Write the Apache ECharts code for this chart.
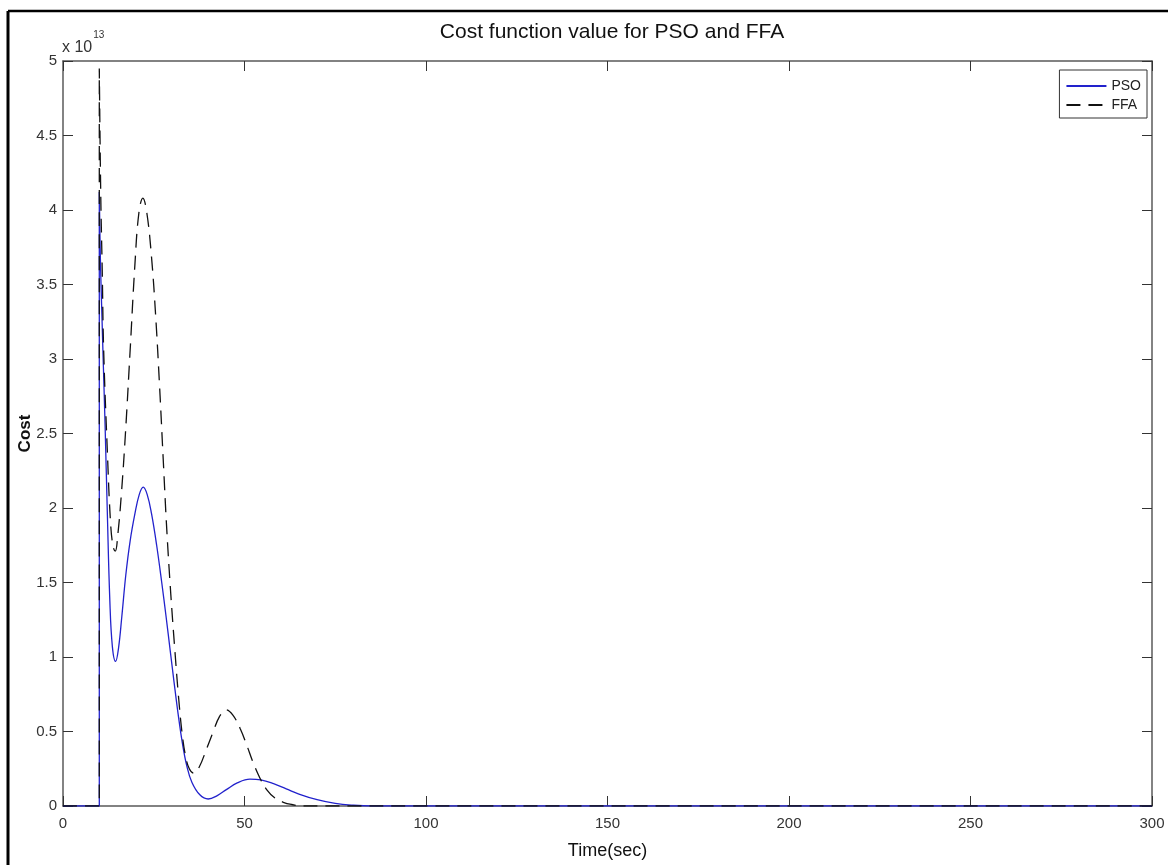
<!DOCTYPE html>
<html>
<head>
<meta charset="utf-8">
<script src="https://cdn.jsdelivr.net/npm/echarts@6/dist/echarts.min.js"></script>
<style>
html,body{margin:0;padding:0;background:#fff;}
#chart{width:1168px;height:865px;}
</style>
</head>
<body>
<div id="chart"></div>
<script>
// Values in units of 1e13
var psoData = [
  [0,0],[10,0],[10,4.12],[10.3,3.67],[10.7,3.31],[11.1,2.97],[11.6,2.55],[12.2,1.98],[12.9,1.38],
  [13.6,1.07],[14.5,0.97],[15.3,1.06],[16.2,1.27],[17.3,1.55],[18.5,1.78],[19.8,1.96],[21,2.09],
  [22.1,2.14],[23.2,2.09],[24.4,1.96],[25.8,1.75],[27.2,1.50],[28.4,1.27],[29.5,1.05],[30.6,0.83],
  [31.7,0.62],[32.9,0.42],[34.1,0.27],[35.5,0.16],[37.7,0.075],[40,0.047],[42.5,0.07],[45,0.11],
  [48,0.155],[51.5,0.18],[54.5,0.175],[58,0.15],[61.5,0.115],[65,0.08],[70,0.042],[75,0.017],[80,0.005],
  [85,0],[300,0]
];
var ffaData = [
  [0,0],[10,0],[10,4.95],[10.4,4.1],[10.8,3.6],[11.2,3.06],[12.2,2.39],[13.1,1.9],[13.8,1.74],[14.4,1.71],
  [15.1,1.82],[16.1,2.1],[17.2,2.5],[18.5,3.06],[19.8,3.63],[20.9,3.98],[22,4.08],[23.1,3.98],
  [24.4,3.68],[25.5,3.3],[26.6,2.82],[27.6,2.33],[28.6,1.85],[29.7,1.42],[30.8,1.05],[31.8,0.74],[32.8,0.49],
  [33.8,0.33],[34.8,0.25],[36,0.22],[37.5,0.26],[39.5,0.38],[41.4,0.50],[43.1,0.6],[44.9,0.645],
  [46.8,0.61],[48.8,0.52],[50.6,0.41],[52.4,0.29],[54.2,0.19],[56.1,0.11],[58.3,0.055],[60.7,0.025],
  [63,0.01],[66,0],[300,0]
];
var seriesNames = ['PSO','FFA'];
var titleText = 'Cost function value for PSO and FFA';
var xName = 'Time(sec)';
var yName = 'Cost';

var narrow = "'Liberation Sans Narrow','Liberation Sans',Arial,sans-serif";
var sans = "'Liberation Sans',Arial,sans-serif";
var axisCol = '#5a5a5a';

var chart = echarts.init(document.getElementById('chart'));
function mkX(pos, showLabel){
  return {
    type:'value', min:0, max:300, interval:50, position:pos,
    axisLine:{show:true, onZero:false, lineStyle:{color:axisCol, width:1.5}},
    axisTick:{show:true, inside:true, length:10, lineStyle:{color:'#333', width:1}},
    axisLabel:{show:showLabel, margin:10, fontFamily:narrow, fontSize:15, color:'#333'},
    splitLine:{show:false},
    name: showLabel ? xName : '', nameLocation:'middle', nameGap:36, nameMoveOverlap:false,
    nameTextStyle:{fontFamily:sans, fontSize:18, color:'#111'}
  };
}
function mkY(pos, showLabel){
  return {
    type:'value', min:0, max:5, interval:0.5, position:pos,
    axisLine:{show:true, onZero:false, lineStyle:{color:axisCol, width:1.5}},
    axisTick:{show:true, inside:true, length:10, lineStyle:{color:'#333', width:1}},
    axisLabel:{show:showLabel, margin:6, fontFamily:narrow, fontSize:15, color:'#333'},
    splitLine:{show:false},
    name: showLabel ? yName : '', nameLocation:'middle', nameGap:29, nameMoveOverlap:false,
    nameTextStyle:{fontFamily:sans, fontSize:17, fontWeight:'bold', color:'#111'}
  };
}
chart.setOption({
  animation:false,
  backgroundColor:'#fff',
  title:{text:titleText, left:607, textAlign:'center', top:17,
    textStyle:{fontFamily:sans, fontSize:21, fontWeight:'normal', color:'#111'}},
  grid:{left:63, right:16, top:61, bottom:58},
  xAxis:[mkX('bottom', true), mkX('top', false)],
  yAxis:[mkY('left', true), mkY('right', false)],
  legend:{
    data:seriesNames, orient:'vertical', right:21, top:70,
    borderColor:'#333', borderWidth:1, backgroundColor:'#fff', borderRadius:0,
    padding:[9,6,6,6], itemGap:5, itemWidth:40, itemHeight:12,
    itemStyle:{opacity:0},
    textStyle:{fontFamily:narrow, fontSize:14, color:'#222'}
  },
  graphic:[
    {type:'line', shape:{x1:8, y1:11, x2:1168, y2:11}, style:{stroke:'#000', lineWidth:2.5}},
    {type:'line', shape:{x1:8, y1:11, x2:8, y2:865}, style:{stroke:'#000', lineWidth:3}},
    {type:'text', left:62, top:30, style:{
      text:'{b|x 10}{s|13}', fontFamily:narrow,
      rich:{b:{fontSize:16, fontFamily:narrow, fill:'#333', verticalAlign:'bottom', padding:[10,0,0,0]},
            s:{fontSize:10, fontFamily:narrow, fill:'#333', verticalAlign:'top', padding:[0,0,0,1]}}
    }}
  ],
  series:[
    {name:seriesNames[0], type:'line', data:psoData, symbol:'none', showSymbol:false, smooth:0.4,
      lineStyle:{color:'#2222cc', width:1.3}, itemStyle:{color:'#2222cc'}, z:2},
    {name:seriesNames[1], type:'line', data:ffaData, symbol:'none', showSymbol:false, smooth:0.4,
      lineStyle:{color:'#111', width:1.3, type:[14,8]}, itemStyle:{color:'#111'}, z:3}
  ]
});
</script>
</body>
</html>
